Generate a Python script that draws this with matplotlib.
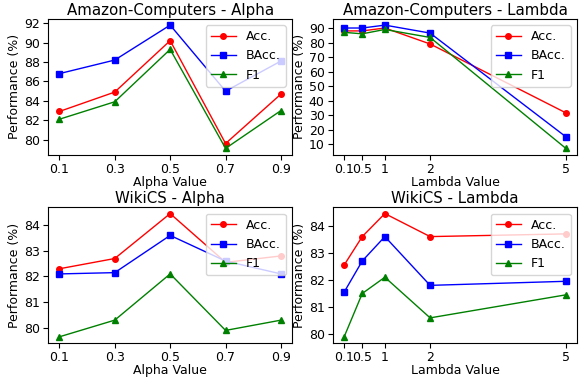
import matplotlib
matplotlib.use('Agg')
import matplotlib.pyplot as plt

alpha_values = [0.1, 0.3, 0.5, 0.7, 0.9]
lambda_values = [0.1, 0.5, 1, 2, 5]
lambda_labels = ['0.1', '0.5', '1', '2', '5']

# Amazon-Computers
amazon_alpha_acc = [82.9, 84.9, 90.2, 79.6, 84.7]
amazon_alpha_bacc = [86.8, 88.2, 91.8, 85.0, 88.1]
amazon_alpha_f1 = [82.1, 83.9, 89.3, 79.1, 83.0]

amazon_lambda_acc = [88.0, 88.0, 90.0, 79.0, 31.5]
amazon_lambda_bacc = [90.0, 90.0, 92.0, 86.5, 15.0]
amazon_lambda_f1 = [87.0, 86.0, 89.0, 83.5, 7.0]

# WikiCS
wikics_alpha_acc = [82.3, 82.7, 84.45, 82.55, 82.8]
wikics_alpha_bacc = [82.1, 82.15, 83.6, 82.6, 82.1]
wikics_alpha_f1 = [79.65, 80.3, 82.1, 79.9, 80.3]

wikics_lambda_acc = [82.55, 83.6, 84.45, 83.6, 83.7]
wikics_lambda_bacc = [81.55, 82.7, 83.6, 81.8, 81.95]
wikics_lambda_f1 = [79.9, 81.5, 82.1, 80.6, 81.45]


def draw(ax, x, acc, bacc, f1, title, xlabel):
    ax.plot(x, acc, color='red', marker='o', markersize=4, linewidth=1, label='Acc.')
    ax.plot(x, bacc, color='blue', marker='s', markersize=4, linewidth=1, label='BAcc.')
    ax.plot(x, f1, color='green', marker='^', markersize=4, linewidth=1, label='F1')
    ax.set_title(title, fontsize=10.8, pad=3)
    ax.set_xlabel(xlabel, fontsize=9, labelpad=0)
    ax.set_ylabel('Performance (%)', fontsize=9, labelpad=2)
    ax.tick_params(labelsize=9, pad=2.5)
    ax.set_xticks(x)
    ax.legend(loc='upper right', fontsize=9)


def main():
    fig, axes = plt.subplots(2, 2, figsize=(5.81, 3.79), dpi=100)

    draw(axes[0, 0], alpha_values, amazon_alpha_acc, amazon_alpha_bacc, amazon_alpha_f1,
         'Amazon-Computers - Alpha', 'Alpha Value')
    draw(axes[0, 1], lambda_values, amazon_lambda_acc, amazon_lambda_bacc, amazon_lambda_f1,
         'Amazon-Computers - Lambda', 'Lambda Value')
    draw(axes[1, 0], alpha_values, wikics_alpha_acc, wikics_alpha_bacc, wikics_alpha_f1,
         'WikiCS - Alpha', 'Alpha Value')
    draw(axes[1, 1], lambda_values, wikics_lambda_acc, wikics_lambda_bacc, wikics_lambda_f1,
         'WikiCS - Lambda', 'Lambda Value')

    for ax in axes[:, 1]:
        ax.set_xticks(lambda_values)
        ax.set_xticklabels(lambda_labels)
    axes[0, 1].set_yticks(range(10, 91, 10))
    axes[0, 0].set_yticks(range(80, 93, 2))
    axes[1, 0].set_yticks(range(80, 85))
    axes[1, 1].set_yticks(range(80, 85))

    fig.subplots_adjust(left=0.083, right=0.993, top=0.950, bottom=0.095,
                        wspace=0.168, hspace=0.39)
    fig.savefig('out.png', dpi=100)


if __name__ == '__main__':
    main()
